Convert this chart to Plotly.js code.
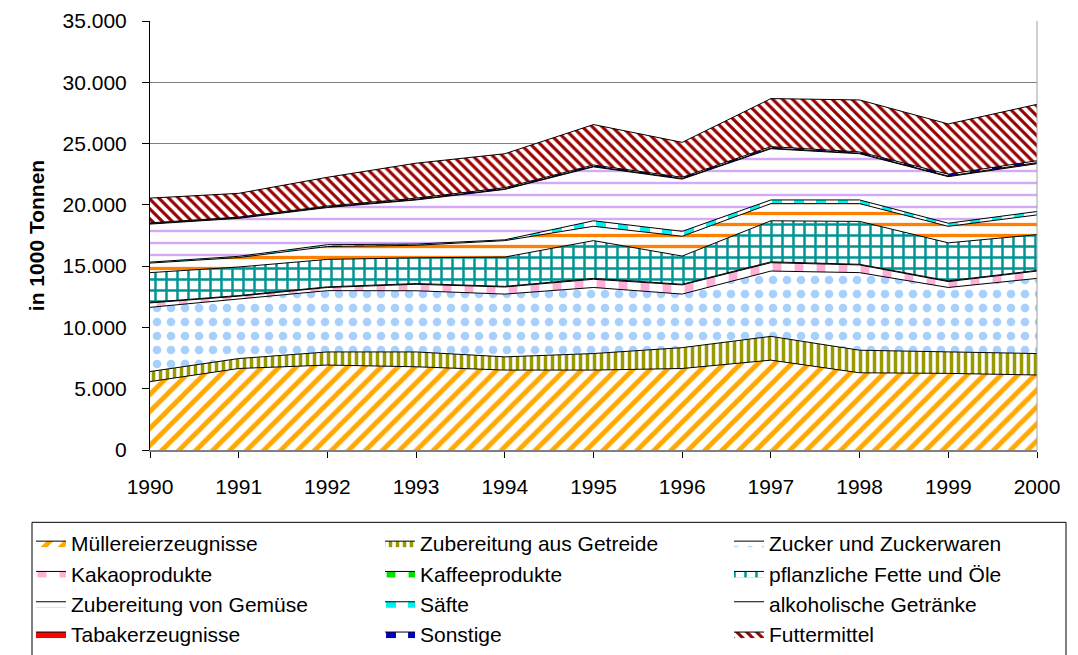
<!DOCTYPE html>
<html>
<head>
<meta charset="utf-8">
<script src="https://cdn.plot.ly/plotly-3.0.1.min.js"></script>
<style>html,body{margin:0;padding:0;background:#fff;}#chart{width:1078px;height:655px;}</style>
</head>
<body>
<div id="chart"></div>
<script>
const years = [1990, 1991, 1992, 1993, 1994, 1995, 1996, 1997, 1998, 1999, 2000];

const muellerei   = [5580, 6650, 6930, 6790, 6520, 6520, 6650, 7330, 6300, 6250, 6120];
const getreide    = [820, 810, 1070, 1210, 1080, 1350, 1700, 1940, 1840, 1750, 1750];
const zucker      = [5240, 4840, 5000, 4990, 5120, 5390, 4370, 5330, 6330, 5260, 6130];
const kakao       = [360, 250, 260, 530, 580, 670, 750, 680, 630, 480, 600];
const kaffee      = [50, 50, 50, 60, 50, 70, 50, 70, 50, 60, 50];
const fette       = [2420, 2330, 2240, 2100, 2390, 3080, 2300, 3350, 3500, 3100, 2920];
const gemuese     = [780, 770, 1050, 1020, 1340, 1170, 1620, 1400, 1450, 1350, 1610];
const saefte      = [80, 100, 150, 100, 70, 450, 400, 300, 300, 250, 280];
const alkohol     = [3100, 3100, 3030, 3600, 4110, 4400, 4260, 4180, 3770, 3800, 3900];
const tabak       = [50, 50, 50, 50, 40, 50, 50, 50, 50, 50, 90];
const sonstige    = [50, 50, 70, 100, 100, 100, 100, 120, 100, 150, 150];
const futter      = [2020, 1940, 2350, 2850, 2770, 3300, 2850, 3920, 4240, 4100, 4600];

const seriesNames = ["Müllereierzeugnisse", "Zubereitung aus Getreide", "Zucker und Zuckerwaren",
  "Kakaoprodukte", "Kaffeeprodukte", "pflanzliche Fette und Öle",
  "Zubereitung von Gemüse", "Säfte", "alkoholische Getränke",
  "Tabakerzeugnisse", "Sonstige", "Futtermittel"];
const seriesValues = [muellerei, getreide, zucker, kakao, kaffee, fette, gemuese, saefte, alkohol, tabak, sonstige, futter];

const styles = [
  {shape: "/", fg: "#FFA800", size: 12, sol: 0.4},
  {shape: "|", fg: "#999900", size: 7, sol: 0.5},
  {shape: ".", fg: "#A8D0FF", size: 14, sol: 0.3},
  {shape: "|", fg: "#FFB0D8", size: 22, sol: 0.4},
  {shape: "|", fg: "#00E000", size: 22, sol: 0.4},
  {shape: "+", fg: "#009494", size: 11, sol: 0.4},
  {shape: "-", fg: "#FF8000", size: 11, sol: 0.3},
  {shape: "|", fg: "#00F0F0", size: 22, sol: 0.45},
  {shape: "-", fg: "#D4AAF8", size: 12, sol: 0.2},
  {shape: "", fg: "#FF0000", size: 8, sol: 0.5},
  {shape: "|", fg: "#0000CC", size: 22, sol: 0.45},
  {shape: "\\", fg: "#990000", size: 7, sol: 0.45}
];

const traces = seriesNames.map((name, i) => {
  const st = styles[i];
  const t = {
    type: "scatter",
    mode: "lines",
    name: name,
    x: years,
    y: seriesValues[i],
    stackgroup: "one",
    line: {color: "#000000", width: 1},
    hoverinfo: "skip"
  };
  if (st.shape === "") {
    t.fillcolor = st.fg;
  } else {
    t.fillcolor = "#FFFFFF";
    t.fillpattern = {shape: st.shape, fgcolor: st.fg, bgcolor: "#FFFFFF", size: st.size, solidity: st.sol, fillmode: "replace"};
  }
  return t;
});

// plot area: x 150..1037, y 21..454 ; paper spans 150..1078 horizontally
const PW = 928, PH = 433;
const px = v => (v - 150) / PW;
const py = v => (454 - v) / PH;

const layout = {
  width: 1078,
  height: 655,
  margin: {l: 150, r: 0, t: 21, b: 201},
  paper_bgcolor: "#FFFFFF",
  plot_bgcolor: "#FFFFFF",
  separators: ",.",
  font: {family: "Liberation Sans, Arial, sans-serif", size: 21, color: "#000000"},
  showlegend: true,
  xaxis: {
    domain: [0, 887 / PW],
    range: [1990, 2000],
    tickmode: "linear",
    tick0: 1990,
    dtick: 1,
    ticks: "outside",
    ticklen: 6,
    tickcolor: "#000000",
    ticklabelstandoff: 11,
    showline: true,
    linecolor: "#808080",
    linewidth: 2,
    showgrid: false,
    zeroline: false,
    tickfont: {size: 21}
  },
  yaxis: {
    range: [0, 35000],
    tickmode: "linear",
    tick0: 0,
    dtick: 5000,
    tickformat: ",d",
    ticks: "outside",
    ticklen: 7,
    tickcolor: "#000000",
    ticklabelstandoff: 11,
    showline: true,
    linecolor: "#000000",
    linewidth: 1,
    showgrid: true,
    gridcolor: "#808080",
    gridwidth: 1,
    zeroline: false,
    tickfont: {size: 21},
    title: {text: "in 1000 Tonnen", font: {size: 21, weight: "bold"}, standoff: 12}
  },
  legend: {
    orientation: "h",
    x: px(31),
    xanchor: "left",
    y: py(528),
    yanchor: "top",
    entrywidth: 304,
    entrywidthmode: "pixels",
    traceorder: "normal",
    bgcolor: "rgba(0,0,0,0)",
    borderwidth: 0,
    font: {size: 21},
    itemclick: false,
    itemdoubleclick: false
  },
  shapes: [
    {type: "line", xref: "x domain", yref: "y domain", x0: 1, x1: 1, y0: 0, y1: 1, line: {color: "#A0A0A0", width: 1}},
    {type: "rect", xref: "paper", yref: "paper", x0: px(32), x1: px(1066), y0: py(527), y1: py(662),
     line: {color: "#000000", width: 1}, fillcolor: "rgba(0,0,0,0)", layer: "below"}
  ]
};

Plotly.newPlot("chart", traces, layout, {staticPlot: true, displayModeBar: false});
</script>
</body>
</html>
